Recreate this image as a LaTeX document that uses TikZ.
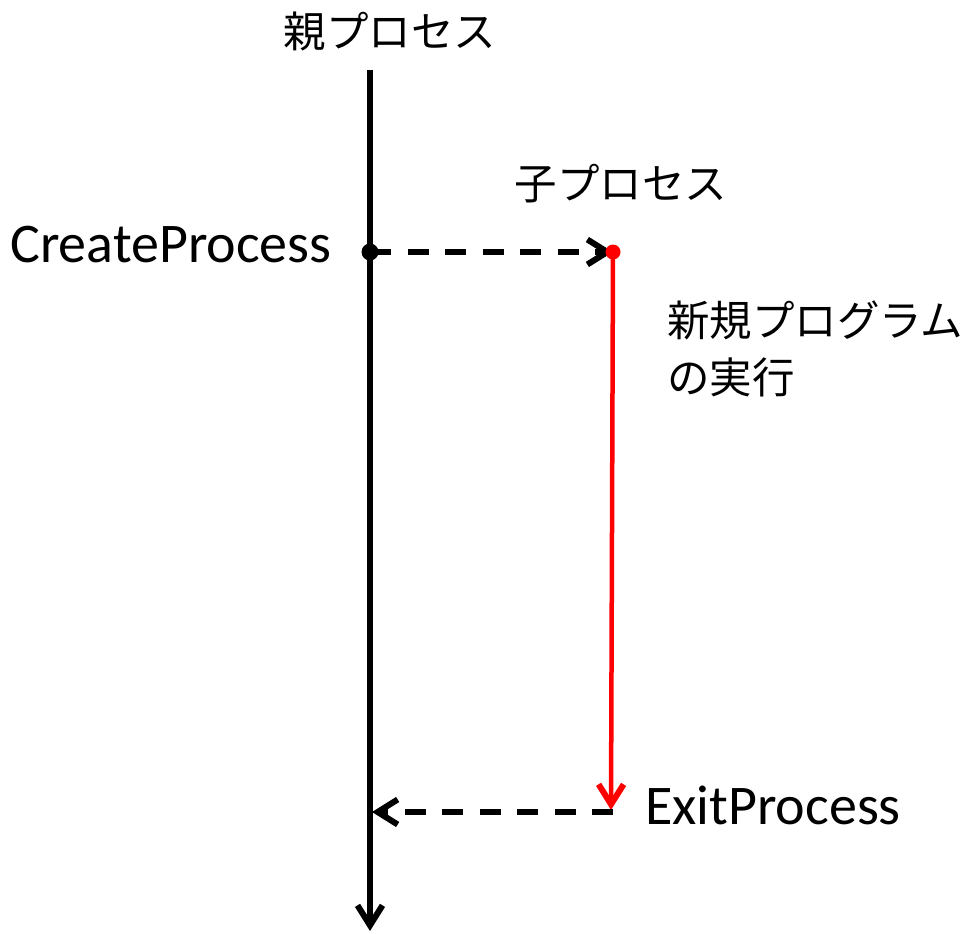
\documentclass[tikz,border=0pt]{standalone}
\usepackage{fontspec}
\setmainfont{Carlito}
\newfontfamily\jpfont{Noto Sans CJK JP}
\usetikzlibrary{arrows.meta}
\tikzset{
  lbl/.style={inner sep=0pt, font=\fontsize{56}{66}\selectfont},
  jlbl/.style={inner sep=0pt, font=\jpfont\fontsize{42.5}{57}\selectfont},
  tip/.style={-{Straight Barb[length=20pt,width=25pt,line width=6pt]}},
  dashline/.style={line width=5.5pt, dash pattern=on 21pt off 16.5pt, tip},
}
\begin{document}
\begin{tikzpicture}[x=1pt,y=-1pt]
\useasboundingbox (0,0) rectangle (980,934);
% coordinates
\coordinate (ptop) at (370,70);
\coordinate (pbot) at (370,931);
\coordinate (cp) at (370,252);
\coordinate (ctop) at (613,252);
\coordinate (cbot) at (611,810);
\coordinate (ep) at (613,812);
\coordinate (epend) at (372,812);
% labels
\node[jlbl] (parent) at (390,31) {親プロセス};
\node[jlbl] (child) at (621,184) {子プロセス};
\node[lbl, anchor=west] (create) at (10,245) {CreateProcess};
\node[jlbl, anchor=north west, align=left] (newprog) at (667,301) {新規プログラム\\の実行};
\node[lbl, anchor=west] (exit) at (645,805) {ExitProcess};
% parent line
\draw[line width=6pt, tip] (ptop) -- (pbot);
% child line
\draw[red, line width=4.5pt, tip] (ctop) -- (cbot);
% dashed arrows
\draw[dashline] (cp) -- (ctop);
\draw[dashline] (ep) -- (epend);
% dots
\fill (cp) circle (8.5pt);
\fill[red] (ctop) circle (7.5pt);
\end{tikzpicture}
\end{document}
